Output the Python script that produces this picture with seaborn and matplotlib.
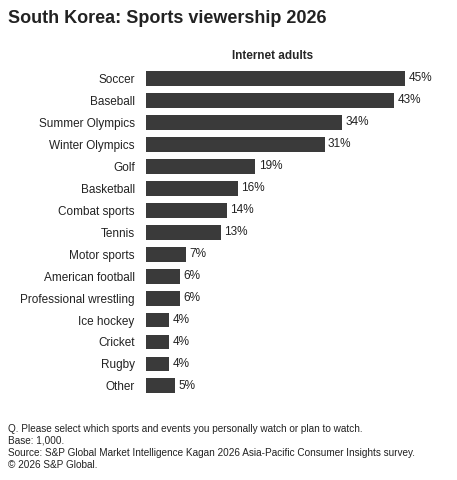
import matplotlib
matplotlib.use("Agg")
import matplotlib.pyplot as plt
import seaborn as sns
import pandas as pd

categories = ["Soccer", "Baseball", "Summer Olympics", "Winter Olympics", "Golf", "Basketball",
              "Combat sports", "Tennis", "Motor sports", "American football", "Professional wrestling",
              "Ice hockey", "Cricket", "Rugby", "Other"]
values = [45, 43, 34, 31, 19, 16, 14, 13, 7, 6, 6, 4, 4, 4, 5]

sns.set_style("white")
plt.rcParams['font.family'] = ['Liberation Sans', 'DejaVu Sans']

df = pd.DataFrame({"cat": categories, "val": values})
fig = plt.figure(figsize=(4.57, 4.80), dpi=100)
ax = fig.add_axes([0.319, 0.173, 0.631, 0.687])
sns.barplot(data=df, x="val", y="cat", color="#3a3a3a", width=0.68, ax=ax, saturation=1, linewidth=0)
ax.set_xlim(0, 50)
ax.set_ylim(14.5, -0.5)
for i, v in enumerate(values):
    ax.text(v + 0.6, i, f"{v}%", va="center", ha="left", fontsize=8.5, color="#222222")
ax.set_xlabel(""); ax.set_ylabel("")
ax.set_xticks([])
ax.tick_params(axis="y", length=0, labelsize=8.5, pad=8, colors="#222222")
for s in ax.spines.values():
    s.set_visible(False)
ax.set_title("Internet adults", fontsize=8.5, fontweight="bold", pad=6, x=0.44)
fig.text(0.018, 0.962, "South Korea: Sports viewership 2026", fontsize=13, fontweight="bold", va="center", color="#222222")
foot = ("Q. Please select which sports and events you personally watch or plan to watch.\n"
        "Base: 1,000.\n"
        "Source: S&P Global Market Intelligence Kagan 2026 Asia-Pacific Consumer Insights survey.\n"
        "© 2026 S&P Global.")
fig.text(0.018, 0.117, foot, fontsize=7.2, va="top", linespacing=1.25, color="#222222")
fig.savefig("out.png", dpi=100)
